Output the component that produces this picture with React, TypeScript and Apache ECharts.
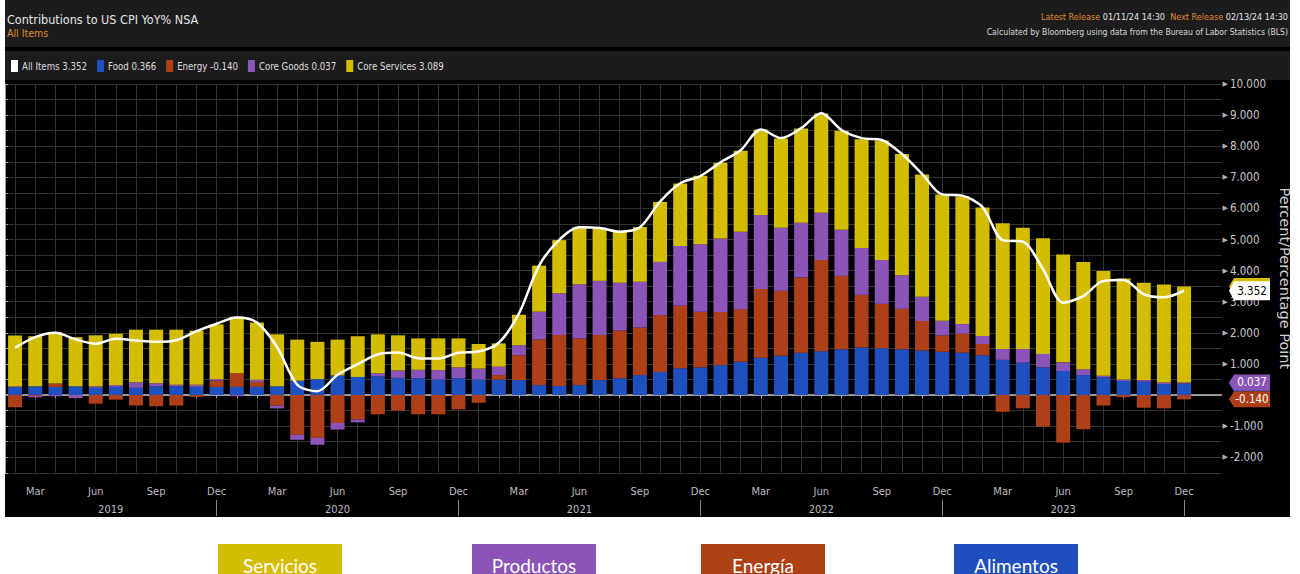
import React, { useEffect, useRef } from 'react';
import * as echarts from 'echarts';

const NARROW = "'Liberation Sans Narrow', 'DejaVu Sans Condensed', 'Arial Narrow', sans-serif";

const categories = [
  'Feb 2019', 'Mar 2019', 'Apr 2019', 'May 2019', 'Jun 2019', 'Jul 2019', 'Aug 2019', 'Sep 2019', 'Oct 2019', 'Nov 2019', 'Dec 2019',
  'Jan 2020', 'Feb 2020', 'Mar 2020', 'Apr 2020', 'May 2020', 'Jun 2020', 'Jul 2020', 'Aug 2020', 'Sep 2020', 'Oct 2020', 'Nov 2020', 'Dec 2020',
  'Jan 2021', 'Feb 2021', 'Mar 2021', 'Apr 2021', 'May 2021', 'Jun 2021', 'Jul 2021', 'Aug 2021', 'Sep 2021', 'Oct 2021', 'Nov 2021', 'Dec 2021',
  'Jan 2022', 'Feb 2022', 'Mar 2022', 'Apr 2022', 'May 2022', 'Jun 2022', 'Jul 2022', 'Aug 2022', 'Sep 2022', 'Oct 2022', 'Nov 2022', 'Dec 2022',
  'Jan 2023', 'Feb 2023', 'Mar 2023', 'Apr 2023', 'May 2023', 'Jun 2023', 'Jul 2023', 'Aug 2023', 'Sep 2023', 'Oct 2023', 'Nov 2023', 'Dec 2023',
];

const food = [
  0.26, 0.28, 0.26, 0.28, 0.23, 0.26, 0.23, 0.28, 0.28, 0.26, 0.26,
  0.26, 0.26, 0.28, 0.46, 0.51, 0.63, 0.58, 0.60, 0.55, 0.54, 0.50, 0.54,
  0.50, 0.50, 0.48, 0.32, 0.29, 0.32, 0.48, 0.54, 0.64, 0.74, 0.86, 0.89,
  0.96, 1.07, 1.20, 1.26, 1.36, 1.41, 1.47, 1.53, 1.50, 1.47, 1.43, 1.39,
  1.36, 1.28, 1.13, 1.04, 0.89, 0.77, 0.64, 0.57, 0.45, 0.43, 0.35, 0.366,
];

const energy = [
  -0.39, -0.03, 0.11, -0.02, -0.28, -0.15, -0.34, -0.36, -0.34, -0.06, 0.20,
  0.44, 0.16, -0.34, -1.28, -1.38, -0.90, -0.79, -0.62, -0.50, -0.62, -0.62, -0.46,
  -0.25, 0.14, 0.80, 1.47, 1.64, 1.50, 1.45, 1.53, 1.53, 1.83, 2.01, 1.79,
  1.71, 1.69, 2.21, 2.09, 2.42, 2.93, 2.36, 1.69, 1.43, 1.30, 0.95, 0.53,
  0.61, 0.36, -0.54, -0.43, -1.02, -1.53, -1.10, -0.34, -0.07, -0.41, -0.43, -0.140,
];

const coreGoods = [
  0.01, -0.04, -0.04, -0.08, 0.05, 0.06, 0.18, 0.10, 0.05, 0.07, 0.05,
  -0.04, 0.07, -0.09, -0.16, -0.22, -0.21, -0.09, 0.10, 0.24, 0.27, 0.30, 0.35,
  0.35, 0.27, 0.32, 0.89, 1.34, 1.74, 1.74, 1.54, 1.47, 1.71, 1.92, 2.17,
  2.36, 2.49, 2.38, 2.03, 1.76, 1.52, 1.48, 1.51, 1.41, 1.08, 0.78, 0.47,
  0.31, 0.26, 0.35, 0.44, 0.43, 0.28, 0.19, 0.05, 0.05, 0.05, 0.05, 0.037,
];

const coreServices = [
  1.64, 1.61, 1.64, 1.58, 1.64, 1.65, 1.69, 1.72, 1.77, 1.74, 1.76,
  1.82, 1.84, 1.67, 1.32, 1.20, 1.15, 1.31, 1.25, 1.13, 1.01, 1.02, 0.93,
  0.79, 0.75, 0.98, 1.48, 1.71, 1.83, 1.71, 1.64, 1.76, 1.93, 2.01, 2.20,
  2.44, 2.60, 2.75, 2.87, 3.03, 3.19, 3.19, 3.49, 3.84, 3.90, 3.93, 4.06,
  4.10, 4.13, 4.04, 3.90, 3.72, 3.47, 3.45, 3.37, 3.25, 3.13, 3.15, 3.089,
];

const allItems = [
  1.52, 1.86, 2.00, 1.79, 1.65, 1.81, 1.75, 1.71, 1.76, 2.05, 2.29,
  2.49, 2.33, 1.54, 0.33, 0.12, 0.65, 0.99, 1.31, 1.37, 1.18, 1.17, 1.36,
  1.40, 1.68, 2.62, 4.16, 4.99, 5.39, 5.37, 5.25, 5.39, 6.22, 6.81, 7.04,
  7.48, 7.87, 8.54, 8.26, 8.58, 9.06, 8.52, 8.26, 8.20, 7.75, 7.11, 6.45,
  6.41, 6.04, 4.98, 4.93, 4.05, 2.97, 3.18, 3.67, 3.70, 3.24, 3.14, 3.352,
];

const tickMonths = ['Mar', 'Jun', 'Sep', 'Dec'];
const yearLabelMonth = 'Jun';
const padCategories = ['', ''];

const seriesNames = ['All Items', 'Food', 'Energy', 'Core Goods', 'Core Services'];
const colors = {
  'All Items': '#ffffff',
  Food: '#1f50c0',
  Energy: '#ae3f16',
  'Core Goods': '#8b54b8',
  'Core Services': '#d4bc00',
};

const buttons = [
  { label: 'Servicios', color: '#d4bd00', x: 218 },
  { label: 'Productos', color: '#8b55b8', x: 472 },
  { label: 'Energía', color: '#ae4015', x: 701 },
  { label: 'Alimentos', color: '#1f4fbd', x: 954 },
];

export default function App() {
  const ref = useRef<HTMLDivElement>(null);

  useEffect(() => {
    const chart = echarts.init(ref.current as HTMLDivElement, null, { renderer: 'svg' });
    const last = categories.length - 1;
    const xCats = [...categories, ...padCategories];
    const lastValues: Record<string, number> = {
      'All Items': allItems[last],
      Food: food[last],
      Energy: energy[last],
      'Core Goods': coreGoods[last],
      'Core Services': coreServices[last],
    };

    const gridTop = 84;
    const gridHeight = 388.75;
    const band = 20.155;
    const plotLeft = 5;
    const axisX = 1228;

    const barSeries = (name: string, data: number[]) => ({
      name,
      type: 'bar',
      stack: 'cpi',
      xAxisIndex: 0,
      yAxisIndex: 0,
      barWidth: 14,
      data,
      itemStyle: { color: (colors as any)[name] },
    });

    const option: any = {
      animation: false,
      backgroundColor: '#ffffff',
      textStyle: { fontFamily: NARROW },
      legend: {
        data: seriesNames,
        left: 11,
        top: 60,
        padding: 0,
        icon: 'rect',
        itemWidth: 7,
        itemHeight: 12,
        itemGap: 10,
        textStyle: { color: '#dcdcdc', fontSize: 9.6, fontFamily: NARROW, padding: [0, 0, 0, -1] },
        formatter: (name: string) => `${name} ${lastValues[name].toFixed(3)}`,
        selectedMode: false,
      },
      grid: [
        { left: plotLeft, top: gridTop, width: band * xCats.length, height: gridHeight },
        { left: plotLeft, top: gridTop, width: axisX - plotLeft, height: gridHeight },
      ],
      xAxis: [
        {
          type: 'category',
          gridIndex: 0,
          data: xCats,
          position: 'bottom',
          offset: 5.25,
          axisLine: { show: false },
          axisTick: {
            show: true,
            alignWithLabel: true,
            length: 3,
            interval: (i: number) => i <= last,
            lineStyle: { color: '#aaaaaa' },
          },
          axisLabel: {
            interval: 0,
            margin: 8,
            color: '#bdbdbd',
            fontSize: 11,
            fontFamily: NARROW,
            formatter: (v: string) => {
              const m = v.split(' ')[0];
              return tickMonths.includes(m) ? m : '';
            },
          },
          splitLine: {
            show: true,
            alignWithLabel: true,
            interval: (i: number) => i <= last,
            lineStyle: { color: '#333333', width: 1 },
          },
        },
        {
          type: 'category',
          gridIndex: 0,
          data: xCats,
          position: 'bottom',
          offset: 27.25,
          axisLine: { show: false },
          axisTick: {
            show: true,
            alignWithLabel: true,
            length: 16,
            interval: (_i: number, v: string) => v.startsWith('Dec'),
            lineStyle: { color: '#8a8a8a' },
          },
          axisLabel: {
            interval: 0,
            margin: 4,
            color: '#bdbdbd',
            fontSize: 11,
            fontFamily: NARROW,
            formatter: (v: string, i: number) => {
              const [m, y] = v.split(' ');
              if (m !== yearLabelMonth) return '';
              return i < 11 ? `{first|${y}}` : `{y|${y}}`;
            },
            rich: {
              first: { padding: [0, 0, 0, 30], color: '#bdbdbd', fontSize: 11, fontFamily: NARROW },
              y: { color: '#bdbdbd', fontSize: 11, fontFamily: NARROW },
            },
          },
          splitLine: { show: false },
        },
        {
          type: 'value',
          gridIndex: 1,
          min: 0,
          max: 1,
          position: 'bottom',
          offset: 5.25,
          axisLine: { show: true, lineStyle: { color: '#c4c4c4', width: 1.5 } },
          axisTick: { show: false },
          axisLabel: { show: false },
          splitLine: { show: false },
        },
      ],
      yAxis: [
        {
          type: 'value',
          gridIndex: 0,
          min: -2.5,
          max: 10,
          interval: 0.5,
          show: false,
          splitLine: { show: false },
        },
        {
          type: 'value',
          gridIndex: 1,
          min: -2.5,
          max: 10,
          interval: 0.5,
          position: 'right',
          name: 'Percent/Percentage Point',
          nameLocation: 'middle',
          nameRotate: -90,
          nameGap: 42,
          nameTextStyle: { color: '#cfcfcf', fontSize: 14.5, fontFamily: "'DejaVu Sans', sans-serif" },
          axisLine: { show: true, lineStyle: { color: '#9a9a9a' } },
          axisTick: { show: true, length: 3, lineStyle: { color: '#9a9a9a' } },
          axisLabel: {
            margin: 1,
            formatter: (v: number) =>
              Number.isInteger(v) && v !== 0 ? `{t|▶}{n|${v.toFixed(3)}}` : '',
            rich: {
              t: { fontSize: 7, color: '#b0b0b0', padding: [0, 2, 0, 0], fontFamily: "'DejaVu Sans', sans-serif" },
              n: { fontSize: 11.5, color: '#c8c8c8', fontFamily: NARROW },
            },
          },
          splitLine: { show: true, lineStyle: { color: '#333333', width: 1 } },
        },
      ],
      series: [
        barSeries('Food', food),
        barSeries('Energy', energy),
        barSeries('Core Goods', coreGoods),
        barSeries('Core Services', coreServices),
        {
          name: 'All Items',
          type: 'line',
          xAxisIndex: 0,
          yAxisIndex: 0,
          data: allItems,
          smooth: 0.3,
          showSymbol: false,
          symbol: 'none',
          z: 5,
          itemStyle: { color: '#ffffff' },
          lineStyle: { color: '#ffffff', width: 2.5 },
        },
      ],
    };

    chart.setOption(option);

    const yOf = (v: number) => chart.convertToPixel({ yAxisIndex: 0 }, v) as number;

    let zBase = 30;
    const marker = (value: number, fill: string, textFill: string, text: string | null, h: number) => {
      const yc = yOf(value);
      const x0 = axisX + 1;
      zBase += 2;
      const items: any[] = [
        {
          type: 'polygon',
          z: zBase,
          shape: {
            points: [
              [x0, yc],
              [x0 + 5, yc - h / 2],
              [x0 + 41, yc - h / 2],
              [x0 + 41, yc + h / 2],
              [x0 + 5, yc + h / 2],
            ],
          },
          style: { fill },
        },
      ];
      if (text) {
        items.push({
          type: 'text',
          z: zBase + 1,
          x: x0 + 23,
          y: yc,
          style: {
            text,
            fill: textFill,
            fontSize: 11.5,
            fontFamily: NARROW,
            align: 'center',
            verticalAlign: 'middle',
            textAlign: 'center',
            textVerticalAlign: 'middle',
          },
        });
      }
      return items;
    };

    const servicesTop = food[last] + Math.max(energy[last], 0) + Math.max(coreGoods[last], 0) + coreServices[last];
    const goodsTop = food[last] + Math.max(energy[last], 0) + coreGoods[last];

    const txt = (x: number, y: number, text: string, fill: string, size: number, align = 'left', extra: any = {}) => ({
      type: 'text',
      z: 20,
      x,
      y,
      style: {
        text,
        fill,
        fontSize: size,
        fontFamily: NARROW,
        align,
        textAlign: align,
        verticalAlign: 'middle',
        textVerticalAlign: 'middle',
        ...extra,
      },
    });

    const elements: any[] = [
      { type: 'rect', z: -10, shape: { x: 5, y: 0, width: 1285, height: 517 }, style: { fill: '#000000' } },
      { type: 'rect', z: -9, shape: { x: 5, y: 0, width: 1285, height: 47 }, style: { fill: '#1c1c1c' } },
      { type: 'rect', z: -9, shape: { x: 5, y: 51, width: 1285, height: 29 }, style: { fill: '#1c1c1c' } },
      txt(7, 19, 'Contributions to US CPI YoY% NSA', '#e4e4e4', 12.5),
      txt(7, 33, 'All Items', '#e0882c', 10.5),
      txt(1288, 17, '{o|Latest Release} {w|01/11/24 14:30}  {o|Next Release} {w|02/13/24 14:30}', '#e4e4e4', 9, 'right', {
        rich: {
          o: { fill: '#e0882c', fontSize: 9, fontFamily: NARROW },
          w: { fill: '#e4e4e4', fontSize: 9, fontFamily: NARROW },
        },
      }),
      txt(1288, 32, 'Calculated by Bloomberg using data from the Bureau of Labor Statistics (BLS)', '#d8d8d8', 8.6, 'right'),
      ...marker(servicesTop, colors['Core Services'], '#000000', null, 17),
      ...marker(allItems[last], '#ffffff', '#000000', allItems[last].toFixed(3), 19),
      ...marker(food[last], colors.Food, '#ffffff', null, 16),
      ...marker(goodsTop, colors['Core Goods'], '#ffffff', coreGoods[last].toFixed(3), 16),
      ...marker(energy[last], colors.Energy, '#ffffff', energy[last].toFixed(3), 16),
    ];

    buttons.forEach((b) => {
      elements.push({ type: 'rect', z: 20, shape: { x: b.x, y: 544, width: 124, height: 40 }, style: { fill: b.color } });
      elements.push({
        type: 'text',
        z: 21,
        x: b.x + 62,
        y: 565,
        style: {
          text: b.label,
          fill: '#ffffff',
          fontSize: 19,
          fontFamily: "Lato, 'Open Sans', sans-serif",
          align: 'center',
          textAlign: 'center',
          verticalAlign: 'middle',
          textVerticalAlign: 'middle',
        },
      });
    });

    chart.setOption({ graphic: { elements } });

    return () => chart.dispose();
  }, []);

  return <div ref={ref} style={{ position: 'absolute', left: 0, top: 0, width: 1300, height: 574 }} />;
}
